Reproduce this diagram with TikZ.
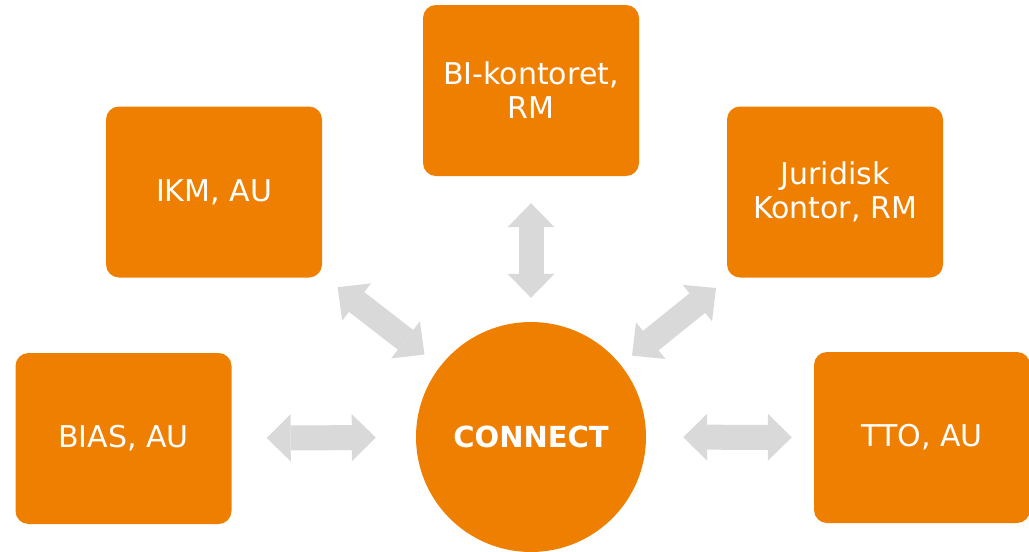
\documentclass[tikz,border=0pt]{standalone}
\usepackage{fontspec}
\setmainfont{DejaVu Sans}
\usepackage{tikz}
\usetikzlibrary{arrows.meta}
\definecolor{cnorange}{RGB}{239,127,0}
\definecolor{cngray}{RGB}{217,217,217}
\tikzset{
    partner/.style={rectangle, rounded corners=13pt, fill=cnorange, text=white, inner sep=0pt,
        minimum width=216pt, minimum height=171pt, align=center, font=\fontsize{30}{34}\selectfont}, % 橙色方框
    hub/.style={circle, fill=cnorange, text=white, inner sep=0pt, minimum size=230pt,
        font=\fontsize{29}{34}\selectfont\bfseries}, % 中间的圆
    biarrow/.style={draw=cngray, line width=25pt,
        {Triangle[length=24pt, width=47pt, line width=0pt]}-{Triangle[length=24pt, width=47pt, line width=0pt]}} % 灰色双向箭头
}
\begin{document}
\begin{tikzpicture}[x=1pt, y=-1pt]
    \useasboundingbox (0,0) rectangle (1029,552);

    \node[hub] (conn) at (531,437) {CONNECT};
    \foreach \name/\x/\y/\txt in {bi/531/90.5/{BI-kontoret,\\RM}, ikm/214/192/{IKM, AU}, jur/835/192/{Juridisk\\Kontor, RM},
        bias/123.5/438.5/{BIAS, AU}, tto/922/437.5/{TTO, AU}}
        {\node[partner] (\name) at (\x,\y) {\txt};}

    \foreach \name/\a/\b in {bi/24/27, ikm/19.5/19.5, jur/14.5/16.5, bias/40/35, tto/37/22}
        {\draw[biarrow, shorten <=\a pt, shorten >=\b pt] (conn) -- (\name);}
\end{tikzpicture}
\end{document}
